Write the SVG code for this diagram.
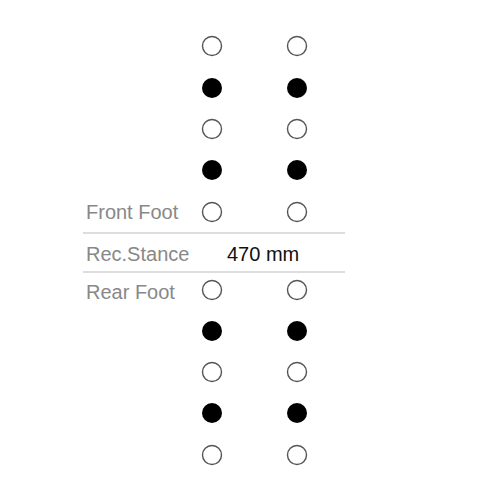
<svg xmlns="http://www.w3.org/2000/svg" width="500" height="500" viewBox="0 0 500 500">
<style>
.o{fill:#fff;stroke:#555;stroke-width:1.4}
.f{fill:#000}
.lbl{font-family:"Liberation Sans",Arial,sans-serif;font-size:20px;fill:#888}
.val{font-family:"Liberation Sans",Arial,sans-serif;font-size:20px;fill:#111}
.ln{stroke:#ddd;stroke-width:2}
</style>
<rect width="500" height="500" fill="#fff"/>
<g id="connectors">
<line class="ln" x1="83" y1="233" x2="345" y2="233"/>
<line class="ln" x1="83" y1="272" x2="345" y2="272"/>
</g>
<g id="labels">
<text class="lbl" x="86" y="219">Front Foot</text>
<text class="lbl" x="86" y="261">Rec.Stance</text>
<text class="val" x="227" y="261">470 mm</text>
<text class="lbl" x="86" y="299">Rear Foot</text>
</g>
<g id="front-holes">
<circle class="o" cx="212" cy="46" r="9.5"/><circle class="o" cx="297" cy="46" r="9.5"/>
<circle class="f" cx="212" cy="88" r="10"/><circle class="f" cx="297" cy="88" r="10"/>
<circle class="o" cx="212" cy="129" r="9.5"/><circle class="o" cx="297" cy="129" r="9.5"/>
<circle class="f" cx="212" cy="170" r="10"/><circle class="f" cx="297" cy="170" r="10"/>
<circle class="o" cx="212" cy="212" r="9.5"/><circle class="o" cx="297" cy="212" r="9.5"/>
</g>
<g id="rear-holes">
<circle class="o" cx="212" cy="290" r="9.5"/><circle class="o" cx="297" cy="290" r="9.5"/>
<circle class="f" cx="212" cy="331" r="10"/><circle class="f" cx="297" cy="331" r="10"/>
<circle class="o" cx="212" cy="372" r="9.5"/><circle class="o" cx="297" cy="372" r="9.5"/>
<circle class="f" cx="212" cy="413" r="10"/><circle class="f" cx="297" cy="413" r="10"/>
<circle class="o" cx="212" cy="455" r="9.5"/><circle class="o" cx="297" cy="455" r="9.5"/>
</g>
</svg>
